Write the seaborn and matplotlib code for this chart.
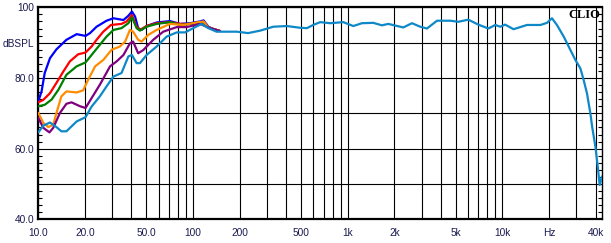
import matplotlib
matplotlib.use("Agg")
import matplotlib.pyplot as plt
import matplotlib.ticker as mticker
import seaborn as sns
import pandas as pd

# ---------------- data ----------------
blue_f = [10.0, 10.5, 11.0, 11.9, 13.1, 15.2, 17.7, 20.2, 21.6, 23.8, 27.6, 30.6, 35.5, 38.2, 40.3, 42.2, 44.2,
          46.5, 50.1, 58.2, 71.0, 82.6, 95.8, 111, 117, 125.6, 138.9, 149.2]
blue_db = [73.4, 76.2, 81.4, 85.6, 88.1, 90.8, 92.4, 91.9, 92.7, 94.5, 96.2, 96.9, 96.4, 97.6, 98.8, 97.4, 94.1,
           93.6, 94.7, 95.7, 96.1, 95.3, 95.5, 96.0, 96.3, 94.5, 93.6, 93.3]

red_f = [10.0, 10.77, 11.9, 13.1, 14.5, 16.0, 18.1, 20.2, 22.1, 23.8, 26.3, 29.5, 34.5, 37.2, 40.3, 43.2, 45.4,
         50.1, 58.2, 71.0, 82.6, 95.8, 111, 125.6, 149.2]
red_db = [73.1, 73.8, 75.7, 78.6, 81.8, 84.7, 86.7, 87.2, 88.9, 90.8, 93.1, 95.0, 95.3, 96.0, 97.8, 94.5, 93.6,
          94.7, 95.5, 95.8, 95.3, 95.3, 95.8, 94.3, 93.3]

green_f = [10.0, 11.0, 12.2, 13.5, 15.2, 17.7, 20.2, 22.1, 25.0, 27.6, 30.6, 34.5, 38.2, 40.3, 43.2, 45.4, 50.1,
           58.2, 71.0, 82.6, 95.8, 111, 125.6, 149.2]
green_db = [72.0, 72.4, 73.9, 76.7, 80.9, 83.3, 84.4, 86.5, 89.4, 91.7, 93.6, 94.1, 95.5, 97.2, 94.1, 93.4, 94.5,
            95.3, 95.8, 95.0, 95.3, 95.7, 94.3, 93.3]

orange_f = [10.0, 10.77, 11.6, 12.5, 13.1, 14.1, 15.2, 17.7, 19.5, 21.0, 23.3, 26.3, 29.8, 33.7, 36.4, 39.1, 41.0,
            44.2, 46.5, 51.4, 58.2, 71.0, 86.7, 105.6, 117, 125.6, 149.2]
orange_db = [70.1, 67.3, 66.1, 66.8, 70.1, 74.8, 76.2, 75.9, 76.5, 79.5, 83.3, 85.1, 88.0, 88.9, 90.3, 93.6, 93.1,
             90.8, 90.3, 92.2, 93.6, 95.3, 95.0, 95.7, 96.0, 94.3, 93.3]

purple_f = [10.0, 10.77, 11.8, 12.5, 13.8, 15.2, 16.4, 18.6, 20.2, 22.1, 25.0, 29.1, 32.1, 35.5, 39.1, 41.0, 44.2,
            47.7, 55.3, 64.2, 78.6, 91.0, 111, 125.6, 149.2]
purple_db = [68.7, 65.9, 64.6, 65.9, 70.1, 72.7, 73.1, 72.0, 71.5, 74.3, 78.1, 83.3, 84.7, 86.5, 89.8, 90.3, 87.0,
             87.9, 90.8, 93.1, 94.4, 94.4, 95.3, 94.3, 93.3]

lblue_f = [10.0, 10.77, 11.9, 13.1, 14.1, 15.2, 17.7, 20.2, 22.1, 25.0, 27.6, 30.6, 34.5, 38.2, 40.3, 43.2, 45.4,
           50.1, 58.2, 67.5, 78.6, 88.9, 100.4, 113.6, 125.6, 142, 192, 227, 272, 330, 404, 493, 545, 598, 664,
           771, 935, 1087, 1236, 1462, 1665, 1828, 2286, 2602, 2942, 3252, 3775, 4603, 5188, 6015, 6984, 8107,
           8995, 9685, 10400, 11800, 14400, 17600, 19400, 20900, 22500, 24900, 27500, 29600, 31900, 33500, 35200,
           37000, 38000, 39900, 41300, 42500, 44000]
lblue_db = [64.6, 66.5, 67.4, 66.1, 64.9, 64.9, 67.7, 68.9, 71.9, 74.8, 77.6, 80.4, 81.4, 86.1, 86.5, 84.2, 84.2,
            86.5, 88.9, 91.7, 92.9, 92.9, 94.1, 95.3, 94.1, 93.1, 93.1, 92.7, 93.4, 94.5, 94.7, 94.2, 94.1, 95.0,
            95.8, 95.5, 95.8, 94.7, 95.5, 95.6, 94.9, 95.3, 94.3, 95.5, 94.5, 94.0, 96.2, 96.2, 95.9, 96.5, 95.1,
            94.0, 95.0, 94.5, 95.1, 93.8, 95.0, 95.0, 95.6, 96.9, 95.0, 91.7, 87.9, 85.1, 82.7, 79.4, 75.6, 70.0,
            66.2, 60.5, 54.9, 49.7, 52.1]

series_names = ["blue", "red", "green", "orange", "purple", "lightblue"]
series_colors = ["#0000ff", "#ff0000", "#008000", "#ff8c00", "#800080", "#0f88c8"]

x_ticks = [10, 20, 50, 100, 200, 500, 1000, 2000, 5000, 10000, 20000, 40000]
x_ticklabels = ["10.0", "20.0", "50.0", "100", "200", "500", "1k", "2k", "5k", "10k", "Hz", "40k"]
y_ticks = [40, 50, 60, 70, 80, 90, 100]
y_ticklabels = ["40.0", "", "60.0", "", "80.0", "dBSPL", "100"]

# ---------------- build table ----------------
pairs = [(blue_f, blue_db), (red_f, red_db), (green_f, green_db), (orange_f, orange_db),
         (purple_f, purple_db), (lblue_f, lblue_db)]
frames = []
for name, (f, d) in zip(series_names, pairs):
    frames.append(pd.DataFrame({"freq": f, "db": d, "series": name}))
df = pd.concat(frames, ignore_index=True)

# ---------------- plot ----------------
sns.set_style("white")
plt.rcParams["font.family"] = ["Liberation Sans", "DejaVu Sans"]

fig = plt.figure(figsize=(6.11, 2.43), dpi=100)
ax = fig.add_axes([38.3 / 611, 1 - 219.3 / 243, (602 - 38.3) / 611, (219.3 - 7.3) / 243])

sns.lineplot(data=df, x="freq", y="db", hue="series", hue_order=series_names,
             palette=dict(zip(series_names, series_colors)), sort=False, estimator=None,
             linewidth=1.6, legend=False, ax=ax, zorder=3)

ax.set_xscale("log")
ax.set_xlim(10, 44000)
ax.set_ylim(40, 100)

# vertical grid positions (1-2-3..9 per decade)
grid_x = []
for dec in [10, 100, 1000]:
    grid_x += [dec * k for k in range(1, 10)]
grid_x += [10000, 20000, 30000, 40000]
ax.xaxis.set_major_locator(mticker.FixedLocator(x_ticks))
ax.xaxis.set_major_formatter(mticker.FixedFormatter(x_ticklabels))
ax.xaxis.set_minor_locator(mticker.FixedLocator(grid_x))
ax.xaxis.set_minor_formatter(mticker.NullFormatter())
ax.grid(True, which="both", axis="x", color="black", linewidth=0.8)

ax.yaxis.set_major_locator(mticker.FixedLocator(y_ticks))
ax.yaxis.set_major_formatter(mticker.FixedFormatter(y_ticklabels))
ax.yaxis.set_minor_locator(mticker.MultipleLocator(2))
ax.grid(True, which="major", axis="y", color="black", linewidth=0.8)

label_color = "#1a1a50"
ax.tick_params(axis="x", which="both", length=0, pad=6, labelsize=7.3, labelcolor=label_color)
ax.tick_params(axis="y", which="major", length=0, pad=3, labelsize=7.3, labelcolor=label_color)
ax.tick_params(axis="y", which="minor", direction="in", length=3, width=0.8, color="black",
               left=True, right=True)

for side in ["left", "bottom", "top"]:
    ax.spines[side].set_visible(True)
    ax.spines[side].set_color("black")
    ax.spines[side].set_linewidth(1.6)
ax.spines["right"].set_visible(True)
ax.spines["right"].set_color("black")
ax.spines["right"].set_linewidth(1.0)

ax.set_xlabel("")
ax.set_ylabel("")

ax.annotate("CLIO", xy=(1, 1), xycoords="axes fraction", xytext=(-1, -1.5), textcoords="offset points",
            ha="right", va="top", fontsize=9, fontweight="bold", family=["Liberation Serif", "DejaVu Serif"],
            color="black", zorder=5)

fig.savefig("out.png", dpi=100, facecolor="white")
